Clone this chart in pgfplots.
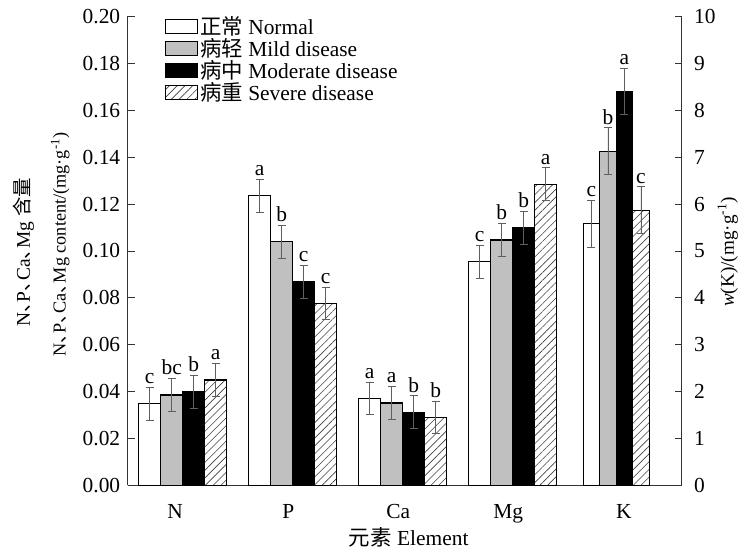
\documentclass[border=0pt]{standalone}
\usepackage{fontspec}
\setmainfont{Liberation Serif}
\newfontfamily\cjk{Noto Sans CJK SC}
\usepackage{pgfplots}
\pgfplotsset{compat=1.18}
\usepackage{pgfplotstable}
\usetikzlibrary{patterns.meta}
\definecolor{bargray}{RGB}{192,192,192}
\definecolor{errgray}{RGB}{95,95,95}

% columns: x position, value, error, letter for each series (A normal, B mild, C moderate, D severe)
\pgfplotstableread{
xA yA eA lA xB yB eB lB xC yC eC lC xD yD eD lD
0.2 0.0348 0.007 c 0.4 0.0386 0.007 bc 0.6 0.0400 0.007 b 0.8 0.0450 0.007 a
1.2 0.1235 0.007 a 1.4 0.1040 0.007 b 1.6 0.0868 0.007 c 1.8 0.0777 0.007 c
2.2 0.0372 0.007 a 2.4 0.0352 0.007 a 2.6 0.0313 0.007 b 2.8 0.0291 0.007 b
3.2 0.0955 0.007 c 3.4 0.1047 0.007 b 3.6 0.1100 0.007 b 3.8 0.1285 0.007 a
}\maindata

\pgfplotstableread{
xA yA eA lA xB yB eB lB xC yC eC lC xD yD eD lD
4.215 5.58 0.5 c 4.365 7.13 0.5 b 4.515 8.40 0.49 a 4.665 5.87 0.5 c
}\kdata

\newcommand{\fs}{\fontsize{21.5}{25}\selectfont}
\newcommand{\fla}{\fontsize{19.5}{23}\selectfont}
\newcommand{\flb}{\fontsize{18.3}{22}\selectfont}
\newcommand{\flc}{\fontsize{19.2}{23}\selectfont}
\newcommand{\dun}{{\cjk 、}\kern-0.45em}

\tikzset{
 barA/.style={fill=white},
 barB/.style={fill=bargray},
 barC/.style={fill=black},
 barD/.style={pattern={Lines[angle=45,distance=5.5bp,line width=0.6bp]}, pattern color=black!75},
}

\pgfplotsset{
 mybar/.style={ybar, bar shift=0pt, draw=black, line width=1.1bp, bar width=#1,
   error bars/y dir=both, error bars/y explicit,
   error bars/error bar style={line width=0.6bp, color=errgray, solid},
   error bars/error mark options={rotate=90, mark size=4bp, line width=0.6bp, color=errgray, solid},
   legend image code/.code={\draw[##1, line width=1.1bp] (0bp,-7bp) rectangle (32bp,7bp);},
   nodes near coords, point meta=explicit symbolic,
 },
 lab/.style={nodes near coords style={font=\fs, anchor=base, inner sep=0pt, yshift=#1, color=black}},
 common/.style={scale only axis, width=554bp, height=469bp,
   xmin=0, xmax=5.036, tick align=inside, major tick length=7bp,
   axis line style={line width=1bp, color=black!80, -},
   tick style={line width=0.8bp, color=black!80},
   tick label style={font=\fs},
   /pgf/number format/assume math mode=true,
 },
}

\begin{document}
\begin{tikzpicture}[font=\fs]
\begin{axis}[common, name=ax,
  ymin=0, ymax=0.2,
  axis x line*=bottom, axis y line*=left,
  xtick={0.43,1.46,2.46,3.46,4.51},
  xticklabels={N,P,Ca,Mg,K},
  xtick style={draw=none},
  xticklabel style={yshift=-15bp},
  ytick={0,0.02,0.04,0.06,0.08,0.10,0.12,0.14,0.16,0.18,0.20},
  scaled y ticks=false,
  yticklabel style={/pgf/number format/fixed, /pgf/number format/fixed zerofill, /pgf/number format/precision=2, xshift=-4bp},
  legend style={draw=none, fill=none, at={(0.067,1.005)}, anchor=north west, font=\fs, inner sep=0pt, row sep=-1.5bp},
  legend cell align=left,
]
\addplot[mybar=0.2, barA, lab=20bp] table[x=xA, y=yA, y error=eA, meta=lA] {\maindata};
\addlegendentry{{\cjk 正常} Normal}
\addplot[mybar=0.2, barB, lab=20bp] table[x=xB, y=yB, y error=eB, meta=lB] {\maindata};
\addlegendentry{{\cjk 病轻} Mild disease}
\addplot[mybar=0.2, barC, lab=20bp] table[x=xC, y=yC, y error=eC, meta=lC] {\maindata};
\addlegendentry{{\cjk 病中} Moderate disease}
\addplot[mybar=0.2, barD, lab=20bp] table[x=xD, y=yD, y error=eD, meta=lD] {\maindata};
\addlegendentry{{\cjk 病重} Severe disease}
\end{axis}

\begin{axis}[common,
  ymin=0, ymax=10,
  axis x line=none, axis y line*=right,
  ytick={0,1,2,3,4,5,6,7,8,9,10},
  yticklabel style={xshift=9bp},
]
\addplot[mybar=0.15, barA, lab=27bp] table[x=xA, y=yA, y error=eA, meta=lA] {\kdata};
\addplot[mybar=0.15, barB, lab=27bp] table[x=xB, y=yB, y error=eB, meta=lB] {\kdata};
\addplot[mybar=0.15, barC, lab=27bp] table[x=xC, y=yC, y error=eC, meta=lC] {\kdata};
\addplot[mybar=0.15, barD, lab=27bp] table[x=xD, y=yD, y error=eD, meta=lD] {\kdata};
\end{axis}

\node[rotate=90, anchor=west, inner sep=0pt, font=\fla] at ([shift={(-104bp,158.5bp)}]ax.south west) {N\dun P\dun Ca\dun Mg {\cjk 含量}};
\node[rotate=90, anchor=west, inner sep=0pt, font=\flb] at ([shift={(-67.5bp,128.5bp)}]ax.south west) {N\dun P\dun Ca\dun Mg content/(mg·g\textsuperscript{-1})};
\node[rotate=90, anchor=west, inner sep=0pt, font=\flc] at ([shift={(600bp,178.5bp)}]ax.south west) {\textit{w}(K)/(mg·g\textsuperscript{-1})};
\node at ([shift={(281bp,-52bp)}]ax.south west) {{\cjk 元素} Element};
\path ([shift={(-127.7bp,-63.5bp)}]ax.south west) rectangle ([shift={(59.3bp,16.5bp)}]ax.north east);
\end{tikzpicture}
\end{document}
